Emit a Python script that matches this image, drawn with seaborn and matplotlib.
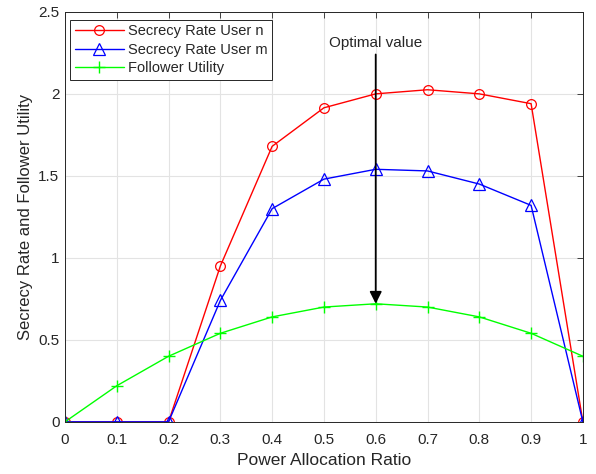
import numpy as np
import pandas as pd
import matplotlib
matplotlib.use("Agg")
import matplotlib.pyplot as plt
import seaborn as sns

ratio = [0, 0.1, 0.2, 0.3, 0.4, 0.5, 0.6, 0.7, 0.8, 0.9, 1.0]
rate_n = [0, 0, 0, 0.95, 1.68, 1.915, 2.0, 2.025, 2.0, 1.94, 0]
rate_m = [0, 0, 0, 0.74, 1.30, 1.48, 1.54, 1.53, 1.45, 1.32, 0]
utility = [0, 0.22, 0.40, 0.54, 0.64, 0.70, 0.72, 0.70, 0.64, 0.54, 0.40]

sns.set_style("white")
plt.rcParams['font.family'] = ['Liberation Sans', 'DejaVu Sans']

fig = plt.figure(figsize=(5.96, 4.74), dpi=100)
ax = fig.add_axes([0.109, 0.110, 0.869, 0.865])

sns.lineplot(x=ratio, y=rate_n, ax=ax, color='#ff0000', marker='o', markersize=7,
             markerfacecolor='none', markeredgecolor='#ff0000', markeredgewidth=0.9,
             linewidth=1.0, label='Secrecy Rate User n')
sns.lineplot(x=ratio, y=rate_m, ax=ax, color='#0000ff', marker='^', markersize=8,
             markerfacecolor='none', markeredgecolor='#0000ff', markeredgewidth=0.9,
             linewidth=1.0, label='Secrecy Rate User m')
sns.lineplot(x=ratio, y=utility, ax=ax, color='#00ff00', marker='+', markersize=9,
             markeredgecolor='#00ff00', markeredgewidth=1.0,
             linewidth=1.0, label='Follower Utility')

ax.annotate('', xy=(0.6, 0.72), xytext=(0.6, 2.24),
            arrowprops=dict(arrowstyle='-|>', color='black', lw=1.3,
                            mutation_scale=18, shrinkA=0, shrinkB=0))
ax.text(0.6, 2.27, 'Optimal value', ha='center', va='bottom', fontsize=11)

ax.set_xlim(0, 1)
ax.set_ylim(0, 2.5)
ax.set_xticks(ratio)
ax.set_xticklabels(['0', '0.1', '0.2', '0.3', '0.4', '0.5', '0.6', '0.7', '0.8', '0.9', '1'])
ax.set_yticks([0, 0.5, 1, 1.5, 2, 2.5])
ax.set_yticklabels(['0', '0.5', '1', '1.5', '2', '2.5'])
ax.grid(True, color='#e3e3e3', linewidth=0.8)
ax.set_axisbelow(True)
ax.tick_params(direction='in', length=4, labelsize=11, colors='#262626',
               top=True, right=True, width=0.6, pad=4)
ax.tick_params(axis='x', pad=8)
for s in ax.spines.values():
    s.set_color('#262626')
    s.set_linewidth(0.7)
ax.set_xlabel('Power Allocation Ratio', fontsize=12.5, color='#262626', labelpad=4)
ax.set_ylabel('Secrecy Rate and Follower Utility', fontsize=12, color='#262626', labelpad=4)

leg = ax.legend(loc='upper left', bbox_to_anchor=(0.01, 0.98), borderaxespad=0,
                fontsize=10.5, frameon=True, fancybox=False,
                edgecolor='#262626', framealpha=1,
                handlelength=3.4, handletextpad=0.3, labelspacing=0.3, borderpad=0.3)
leg.get_frame().set_linewidth(0.7)

fig.savefig('out.png', dpi=100)
